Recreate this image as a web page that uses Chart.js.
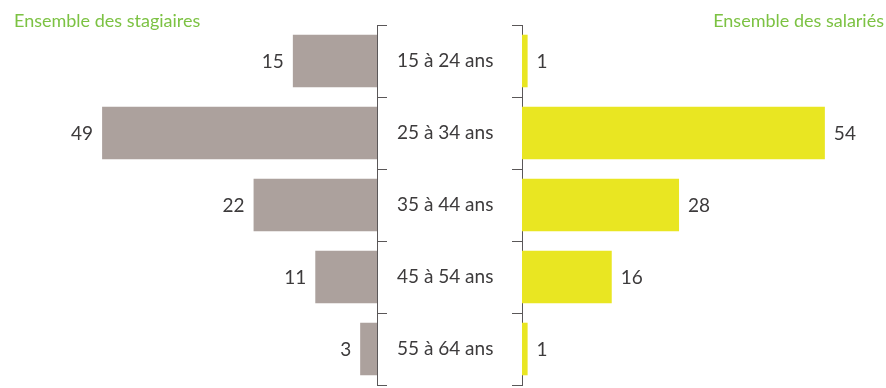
<!DOCTYPE html>
<html><head><meta charset="utf-8">
<script src="https://cdn.jsdelivr.net/npm/chart.js@4"></script>
<style>
html,body{margin:0;padding:0;background:#fff;}
#wrap{position:relative;width:886px;height:388px;overflow:hidden;font-family:Lato,sans-serif;}
.t{position:absolute;top:9px;font-size:18px;color:#7cc243;line-height:22px;white-space:nowrap;}
#cl{position:absolute;left:0;top:0;}
#cr{position:absolute;left:450px;top:0;}
</style></head><body>
<div id="wrap">
<canvas id="cl" width="522" height="388"></canvas>
<canvas id="cr" width="436" height="388"></canvas>
<div class="t" style="left:14px">Ensemble des stagiaires</div>
<div class="t" style="right:2px">Ensemble des salariés</div>
</div>
<script>
const categories = ["15 à 24 ans","25 à 34 ans","35 à 44 ans","45 à 54 ans","55 à 64 ans"];
const stagiaires = [15,49,22,11,3];
const salaries = [1,54,28,16,1];

const textColor = '#3d3b3c';
const axisColor = '#5a5758';
const font = {family:'Lato, sans-serif', size:19};

const valueLabels = {
  id:'valueLabels',
  afterDatasetsDraw(chart, args, opts){
    const ctx = chart.ctx;
    const meta = chart.getDatasetMeta(0);
    const data = chart.data.datasets[0].data;
    ctx.save();
    ctx.font = '19px Lato, sans-serif';
    ctx.fillStyle = textColor;
    ctx.textBaseline = 'middle';
    meta.data.forEach((bar,i)=>{
      if(opts.side==='left'){
        ctx.textAlign='right';
        ctx.fillText(String(data[i]), bar.x-9, bar.y+1);
      } else {
        ctx.textAlign='left';
        ctx.fillText(String(data[i]), bar.x+9, bar.y+1);
      }
    });
    ctx.restore();
  }
};

function yAxis(position, width, showLabels){
  return {
    position: position,
    offset: true,
    grid:{drawOnChartArea:false, drawTicks:true, tickLength:10, color:axisColor, lineWidth:1, offset:true},
    border:{display:true, color:axisColor, width:1},
    ticks:{display:showLabels, color:textColor, font:font, padding:10, crossAlign:'center'},
    afterFit(s){ s.width = width; s.paddingTop = 0; s.paddingBottom = 0; }
  };
}

new Chart(document.getElementById('cl'), {
  type:'bar',
  data:{labels:categories, datasets:[{data:stagiaires, backgroundColor:'#aca19d', categoryPercentage:1, barPercentage:0.73}]},
  options:{
    indexAxis:'y', responsive:false, animation:false,
    layout:{padding:{top:25,bottom:3,left:0,right:0}},
    plugins:{legend:{display:false}, tooltip:{enabled:false}, valueLabels:{side:'left'}},
    scales:{
      x:{display:false, reverse:true, min:0, max:67.2},
      y:yAxis('right', 145, true)
    }
  },
  plugins:[valueLabels]
});

new Chart(document.getElementById('cr'), {
  type:'bar',
  data:{labels:categories, datasets:[{data:salaries, backgroundColor:'#e9e622', categoryPercentage:1, barPercentage:0.73}]},
  options:{
    indexAxis:'y', responsive:false, animation:false,
    layout:{padding:{top:25,bottom:3,left:0,right:0}},
    plugins:{legend:{display:false}, tooltip:{enabled:false}, valueLabels:{side:'right'}},
    scales:{
      x:{display:false, min:0, max:64.9},
      y:yAxis('left', 72, false)
    }
  },
  plugins:[valueLabels]
});
</script>
</body></html>
